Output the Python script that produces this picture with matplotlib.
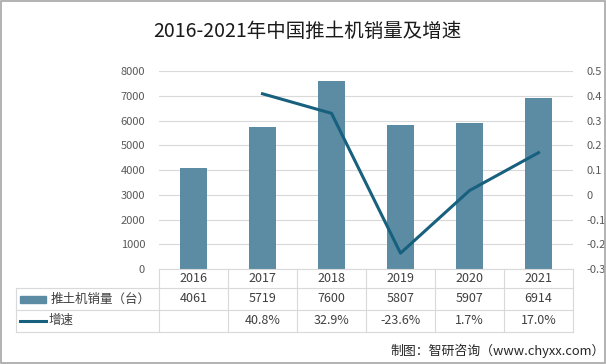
import matplotlib.pyplot as plt
from matplotlib.lines import Line2D
from matplotlib.patches import Rectangle

plt.rcParams['font.family'] = ['Noto Sans CJK SC', 'DejaVu Sans']

years = ['2016', '2017', '2018', '2019', '2020', '2021']
sales = [4061, 5719, 7600, 5807, 5907, 6914]
growth = [None, 0.408, 0.329, -0.236, 0.017, 0.170]
growth_labels = ['', '40.8%', '32.9%', '-23.6%', '1.7%', '17.0%']
left_ticks = [0, 1000, 2000, 3000, 4000, 5000, 6000, 7000, 8000]
right_ticks = [-0.3, -0.2, -0.1, 0, 0.1, 0.2, 0.3, 0.4, 0.5]

bar_color = '#5b8ca4'
line_color = '#17607e'
grid_color = '#d9d9d9'
text_color = '#404040'

W, H = 606, 364
fig = plt.figure(figsize=(W / 100, H / 100), dpi=100)


def fx(px):
    return px / W


def fy(py):
    return 1 - py / H


# plot area in pixels
x0, x1, ytop, ybot = 159, 573, 71, 269
ax = fig.add_axes([fx(x0), fy(ybot), fx(x1 - x0), (ybot - ytop) / H])
xs = list(range(len(years)))
ax.bar(xs, sales, width=0.4, color=bar_color, zorder=2)
ax.set_xlim(-0.5, len(years) - 0.5)
ax.set_ylim(0, 8000)
ax.set_yticks(left_ticks)
ax.set_yticklabels([str(t) for t in left_ticks])
ax.set_xticks([])
ax.tick_params(axis='y', length=0, labelsize=8, labelcolor='#595959', pad=10)
ax.grid(axis='y', color=grid_color, linewidth=0.8, zorder=0)
for s in ax.spines.values():
    s.set_visible(False)

ax2 = ax.twinx()
gx = [i for i, g in zip(xs, growth) if g is not None]
gy = [g for g in growth if g is not None]
ax2.plot(gx, gy, color=line_color, linewidth=2.2, zorder=3)
ax2.set_ylim(-0.3, 0.5)
ax2.set_yticks(right_ticks)
ax2.set_yticklabels(['0' if abs(t) < 1e-9 else f'{t:g}' for t in right_ticks])
ax2.tick_params(axis='y', length=0, labelsize=8, labelcolor='#595959', pad=10)
for s in ax2.spines.values():
    s.set_visible(False)

# data table below the chart
tl = 16
rows = [269, 288, 310, 332]
cols = [x0 + (x1 - x0) * i / len(years) for i in range(len(years) + 1)]
lw = 0.8
fig.add_artist(Line2D([fx(x0), fx(x1)], [fy(rows[0]), fy(rows[0])], color=grid_color, lw=lw))
for r in rows[1:]:
    fig.add_artist(Line2D([fx(tl), fx(x1)], [fy(r), fy(r)], color=grid_color, lw=lw))
for c in cols:
    fig.add_artist(Line2D([fx(c), fx(c)], [fy(rows[0]), fy(rows[3])], color=grid_color, lw=lw))
fig.add_artist(Line2D([fx(tl), fx(tl)], [fy(rows[1]), fy(rows[3])], color=grid_color, lw=lw))

for i, y in enumerate(years):
    cx = (cols[i] + cols[i + 1]) / 2
    fig.text(fx(cx), fy((rows[0] + rows[1]) / 2), y, ha='center', va='center', fontsize=9, color=text_color)
    fig.text(fx(cx), fy((rows[1] + rows[2]) / 2), str(sales[i]), ha='center', va='center', fontsize=9, color=text_color)
    fig.text(fx(cx), fy((rows[2] + rows[3]) / 2), growth_labels[i], ha='center', va='center', fontsize=9, color=text_color)

fig.add_artist(Rectangle((fx(20), fy(303)), fx(26), 7 / H, color=bar_color))
fig.text(fx(51), fy(299), '推土机销量（台）', ha='left', va='center', fontsize=9, color=text_color)
fig.add_artist(Line2D([fx(20), fx(46)], [fy(321), fy(321)], color=line_color, lw=2.2))
fig.text(fx(49), fy(320), '增速', ha='left', va='center', fontsize=9, color=text_color)

fig.text(fx(307), fy(31), '2016-2021年中国推土机销量及增速', ha='center', va='center',
         fontsize=14, fontweight='medium', color='#1a1a1a')
fig.text(fx(605), fy(351), '制图：智研咨询（www.chyxx.com）', ha='right', va='center',
         fontsize=9.3, color='#262626')

fig.add_artist(Rectangle((0.001, 0.002), 0.997, 0.995, fill=False, edgecolor='#a6a6a6', lw=1.2))

fig.savefig('out.png', dpi=100)
